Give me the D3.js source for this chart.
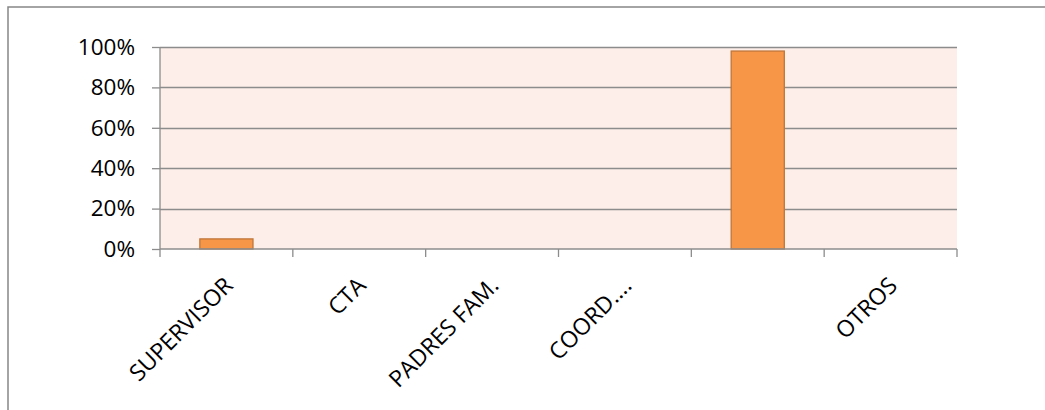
<!DOCTYPE html>
<html>
<head>
<meta charset="utf-8">
<script src="https://cdn.jsdelivr.net/npm/d3@7"></script>
<style>
  html, body { margin: 0; padding: 0; background: #fff; }
  svg { display: block; }
  text { font-family: "Open Sans", "Liberation Sans", sans-serif; fill: #000; }
</style>
</head>
<body>
<svg id="chart" width="1045" height="410"></svg>
<script>
const categories = ["SUPERVISOR", "CTA", "PADRES FAM.", "COORD....", "", "OTROS"];
const values = [0.05, 0, 0, 0, 0.98, 0];
const yTicks = [0, 0.2, 0.4, 0.6, 0.8, 1.0];

const svg = d3.select("#chart");
const W = 1045, H = 410;
const margin = { left: 160, top: 47, right: 1045 - 957, bottom: 410 - 249 };
const plotW = W - margin.left - margin.right;
const plotH = H - margin.top - margin.bottom;

// outer chart border (cropped on right and bottom)
svg.append("rect")
  .attr("x", 8).attr("y", 7)
  .attr("width", 1100).attr("height", 500)
  .attr("fill", "#fff")
  .attr("stroke", "#868686")
  .attr("stroke-width", 1.5);

const x = d3.scaleBand().domain(d3.range(categories.length)).range([0, plotW]).paddingInner(0.6).paddingOuter(0.3);
const xOuter = d3.scaleBand().domain(d3.range(categories.length)).range([0, plotW]);
const y = d3.scaleLinear().domain([0, 1]).range([plotH, 0]);

const g = svg.append("g").attr("transform", `translate(${margin.left},${margin.top})`);

g.append("rect").attr("x", 0).attr("y", 0).attr("width", plotW).attr("height", plotH).attr("fill", "#FDEEE9");

// gridlines
g.append("g").selectAll("line").data(yTicks.filter(d => d > 0)).join("line")
  .attr("x1", 0).attr("x2", plotW)
  .attr("y1", d => Math.round(y(d)) + 0.5).attr("y2", d => Math.round(y(d)) + 0.5)
  .attr("stroke", "#8c8c8c").attr("stroke-width", 1.3);

// bars
g.append("g").selectAll("rect").data(values).join("rect")
  .attr("x", (d, i) => x(i))
  .attr("y", d => y(d))
  .attr("width", x.bandwidth())
  .attr("height", d => plotH - y(d))
  .attr("fill", d => d > 0 ? "#F79646" : "none")
  .attr("stroke", d => d > 0 ? "#C0763A" : "none")
  .attr("stroke-width", 1.3);

// y axis
const yAxis = d3.axisLeft(y).tickValues(yTicks).tickFormat(d3.format(".0%")).tickSize(8).tickPadding(17);
const ya = g.append("g").call(yAxis);
ya.select(".domain").attr("stroke", "#8c8c8c").attr("stroke-width", 1.3).attr("d", `M0,0V${plotH}`);
ya.selectAll(".tick line").attr("stroke", "#8c8c8c").attr("stroke-width", 1.3);
ya.selectAll(".tick text").style("font-size", "22.5px").style("font-family", '"Open Sans", sans-serif').attr("fill", "#000");

// x axis
const xa = g.append("g").attr("transform", `translate(0,${plotH})`);
xa.append("line").attr("x1", 0).attr("x2", plotW).attr("y1", 0).attr("y2", 0).attr("stroke", "#8c8c8c").attr("stroke-width", 1.3);
const edges = d3.range(categories.length + 1).map(i => i === categories.length ? plotW : xOuter(i));
xa.selectAll("line.tk").data(edges).join("line").attr("class", "tk")
  .attr("x1", d => d).attr("x2", d => d).attr("y1", 0).attr("y2", 8)
  .attr("stroke", "#8c8c8c").attr("stroke-width", 1.3);
xa.selectAll("text.lbl").data(categories).join("text").attr("class", "lbl")
  .attr("transform", (d, i) => `translate(${xOuter(i) + xOuter.bandwidth() / 2 + 8},${38}) rotate(-45)`)
  .attr("text-anchor", "end")
  .style("font-size", "23px")
  .text(d => d);
</script>
</body>
</html>
